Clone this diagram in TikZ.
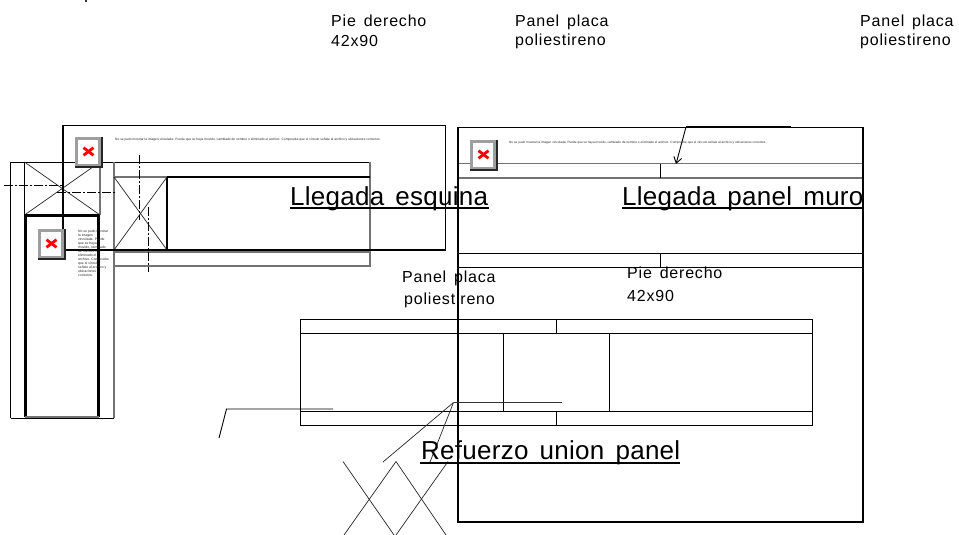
\documentclass[tikz,border=0pt]{standalone}
\usepackage{fontspec}
\setmainfont{Liberation Sans}
\newfontfamily\spacedfont[LetterSpace=5,WordSpace=1.5]{Liberation Sans}
\newfontfamily\titlefont[LetterSpace=1,WordSpace=1.5]{Liberation Sans}
\newcommand{\brokenicon}[3]{% name, x, y of the top left corner
  \fill[black!85] (#2,#3) rectangle ++(27.5,31);
  \fill[iconrim] (#2,#3) rectangle ++(25.8,29.2);
  \fill[white] (#2+2.6,#3+2.6) rectangle ++(20.6,24);
  \coordinate (#1) at (#2+13.5,#3+14.5);
  \draw[red,line width=2.8pt] ($(#1)+(-5,-3.8)$) -- ($(#1)+(5,3.8)$);
  \draw[red,line width=2.8pt] ($(#1)+(-5,3.8)$) -- ($(#1)+(5,-3.8)$);
}
\usetikzlibrary{calc,arrows.meta}
\definecolor{iconrim}{gray}{0.62}
\definecolor{softgrey}{gray}{0.45}
\tikzset{
  thin line/.style={draw=black,line width=0.9pt},
  grey line/.style={draw=softgrey,line width=1.3pt},
  heavy line/.style={draw=black,line width=1.8pt},
  wall line/.style={draw=black,line width=3pt},
  axis line/.style={draw=black,line width=0.9pt,dash pattern=on 9pt off 2pt on 2pt off 2pt},
  cross line/.style={draw=black!85,line width=0.7pt},
  label text/.style={font=\spacedfont\fontsize{16}{18}\selectfont,anchor=base west,inner sep=0pt},
  title text/.style={font=\titlefont\fontsize{26}{30}\selectfont,anchor=base west,inner sep=0pt},
  tiny text/.style={anchor=west,inner sep=0pt,text=black!85},
  tiny block/.style={font=\fontsize{3.4}{4}\selectfont,anchor=north west,inner sep=0pt,align=left,text=black!85},
}
\begin{document}
\begin{tikzpicture}[x=1pt,y=-1pt]
\useasboundingbox (0,0) rectangle (959,535);
\fill[white] (0,0) rectangle (959,535);

% clipped mark at the top edge
\draw[black!80,line width=1.6pt] (86,0) -- (86,2.5);

% left detail: vertical post
\draw[thin line] (10.5,418) -- (10.5,162) -- (370,162);
\draw[grey line] (114,418) -- (114,162);
\draw[thin line] (10.5,418) -- (114,418);
\draw[grey line] (100,162) -- (100,215);
\draw[thin line] (24.5,162) -- (24.5,215);
\draw[cross line] (24.5,162) -- (100,215);
\draw[cross line] (24.5,215) -- (100,162);
\draw[wall line] (25.5,215) -- (25.5,417);
\draw[wall line] (25,215.5) -- (99,215.5);
\draw[wall line] (98.5,215) -- (98.5,417);
\draw[grey line] (25,417) -- (99,417);

% left detail: horizontal wall
\draw[grey line] (370,162) -- (370,266) -- (114,266);
\draw[grey line] (114,177) -- (167,177);
\draw[heavy line] (167,177) -- (370,177);
\draw[heavy line] (167,177) -- (167,251);
\draw[cross line] (114,177) -- (167,250);
\draw[cross line] (114,250) -- (167,177);
\draw[grey line] (114,252) -- (370,252);

% large outline of the corner
\draw[heavy line] (63,232) -- (63,125.5) -- (445.5,125.5) -- (445.5,250) -- (65,250);

% axes
\draw[axis line] (4,185) -- (63,185);
\draw[axis line] (57,192.5) -- (116,192.5);
\draw[axis line] (139.5,155) -- (139.5,220);
\draw[axis line] (148.5,207) -- (148.5,272);

% right detail
\draw[grey line] (458,163.5) -- (863,163.5);
\draw[grey line] (458,178) -- (863,178);
\draw[softgrey,line width=2pt] (458,178) -- (617,178);
\draw[thin line] (660.5,163.5) -- (660.5,178);
\draw[thin line] (458,253.5) -- (863,253.5);
\draw[thin line] (458,267) -- (863,267);
\draw[thin line] (660.5,253.5) -- (660.5,267);
\draw[heavy line] (458,127.5) rectangle (863,522);
\draw[heavy line] (686,126.8) -- (791,126.8);
\coordinate (arrow start) at (686,127);
\coordinate (arrow end) at (676,164);
\draw[thin line,-{Straight Barb[length=6pt,width=8pt]}] (arrow start) -- (arrow end);

% lower detail
\draw[thin line] (300.5,319.5) rectangle (812.5,425.5);
\draw[thin line] (300.5,333) -- (812.5,333);
\draw[thin line] (300.5,411.5) -- (812.5,411.5);
\draw[thin line] (556.5,319.5) -- (556.5,333);
\draw[thin line] (556.5,411.5) -- (556.5,425.5);
\draw[thin line] (503.5,333) -- (503.5,411.5);
\draw[thin line] (609.5,333) -- (609.5,411.5);

% leaders
\coordinate (leader a) at (226.5,409);
\coordinate (leader b) at (453.5,402.5);
\draw[thin line] (219,438) -- (leader a) -- (333,409);
\draw[thin line,draw=black!80] (leader b) -- (562,402.5);
\draw[cross line] (leader b) -- (383,462);
\draw[cross line] (leader b) -- (430,462);

% section cross lines
\draw[cross line] (343,461.5) -- (394,535);
\draw[cross line] (396,461.5) -- (446,535);
\draw[cross line] (344,535) -- (396,461.5);
\draw[cross line] (396,535) -- (448,461.5);

% missing picture icons
\brokenicon{icon one}{75}{137}
\brokenicon{icon two}{38}{229}
\brokenicon{icon three}{470}{140}

% tiny messages
\node[tiny text,font=\fontsize{3.25}{4}\selectfont] (msg one) at (115,139.7) {No se pudo mostrar la imagen vinculada. Puede que se haya movido, cambiado de nombre o eliminado el archivo. Compruebe que el vínculo señale al archivo y ubicaciones correctos.};
\node[tiny text,font=\fontsize{3.15}{4}\selectfont] (msg two) at (509,142.3) {No se pudo mostrar la imagen vinculada. Puede que se haya movido, cambiado de nombre o eliminado el archivo. Compruebe que el vínculo señale al archivo y ubicaciones correctos.};
\node[tiny block] (msg three) at (78,229.5) {No se pudo mostrar\\la imagen\\vinculada. Puede\\que se haya\\movido, cambiado\\de nombre o\\eliminado el\\archivo. Compruebe\\que el vínculo\\señale al archivo y\\ubicaciones\\correctos.};

% labels
\node[label text] (pie top a) at (331,26.5) {Pie derecho};
\node[label text] (pie top b) at (331,47) {42x90};
\node[label text] (panel top a) at (515,26.5) {Panel placa};
\node[label text] (panel top b) at (515,46) {poliestireno};
\node[label text] (panel far a) at (860,26.5) {Panel placa};
\node[label text] (panel far b) at (860,46) {poliestireno};
\node[label text] (panel mid a) at (402,282) {Panel placa};
\node[label text] (panel mid b) at (404,304) {poliestireno};
\node[label text] (pie mid a) at (627,278) {Pie derecho};
\node[label text] (pie mid b) at (627,301) {42x90};

% titles with their underlines
\node[title text] (title corner) at (290,205) {Llegada esquina};
\node[title text] (title wall) at (622,205) {Llegada panel muro};
\node[title text] (title joint) at (421,459) {Refuerzo union panel};
\draw[black,line width=1.6pt] (290,207.8) -- (489,207.8);
\draw[black,line width=1.6pt] (622,207.8) -- (862,207.8);
\draw[black,line width=1.6pt] (420,462.8) -- (680,462.8);
\end{tikzpicture}
\end{document}
